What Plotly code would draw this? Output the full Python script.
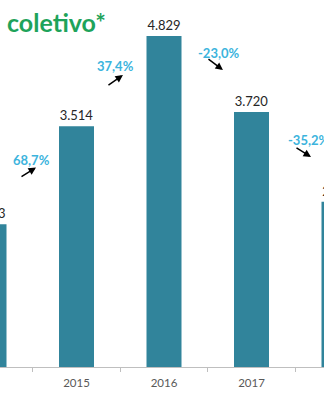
import plotly.graph_objects as go

# ---- data ----
years = ["2014", "2015", "2016", "2017", "2018"]
passengers = [2083, 3514, 4829, 3720, 2410]          # thousands
value_labels = ["2.083", "3.514", "4.829", "3.720", "2.410"]
growth_labels = ["68,7%", "37,4%", "-23,0%", "-35,2%"]
title_text = "coletivo*"

# ---- styling / layout (positions, not data) ----
BAR = "#31849B"
PCT = "#3CB4DD"
GREEN = "#1EA35A"
FONT = "Lato"

# label placement for each year-to-year change (x in category units, y in data units)
pct_x = [0.48, 1.451, 2.629, 3.657]
pct_y = [3020, 4392, 4581, 3312]
arr_x = [0.537, 1.531, 2.674, 3.68]
arr_y = [2911, 4260, 4333, 3064]
arr_ax = [-16, -16, -16, -16]
arr_ay = [10, 11, -12, -10]

fig = go.Figure()
fig.add_trace(go.Bar(
    x=years, y=passengers, width=0.4,
    marker=dict(color=BAR, line=dict(width=0)),
    text=value_labels, textposition="outside", constraintext="none",
    textfont=dict(family=FONT, size=13, color="#262626"),
    cliponaxis=True, hoverinfo="skip",
))

annotations = []
for i, g in enumerate(growth_labels):
    annotations.append(dict(
        x=pct_x[i], y=pct_y[i], xref="x", yref="y", text=g, showarrow=False,
        font=dict(family=FONT, size=13, color=PCT, weight="bold"),
        xanchor="center", yanchor="middle",
    ))
    annotations.append(dict(
        x=arr_x[i], y=arr_y[i], xref="x", yref="y", text="", showarrow=True,
        ax=arr_ax[i], ay=arr_ay[i], arrowhead=2, arrowsize=1, arrowwidth=1.5,
        arrowcolor="#000000", standoff=0,
    ))

fig.update_layout(
    width=324, height=395,
    margin=dict(l=0, r=0, t=0, b=28),
    paper_bgcolor="white", plot_bgcolor="white",
    showlegend=False,
    title=dict(text=title_text, x=7/324, xanchor="left", y=1-23/395, yanchor="middle",
               yref="container", xref="paper",
               font=dict(family=FONT, size=25, color=GREEN, weight="bold")),
    annotations=annotations,
    xaxis=dict(
        type="category", range=[0.1257, 3.8286],
        showline=True, linecolor="#BFBFBF", linewidth=1,
        ticks="outside", tickson="boundaries", ticklen=4, tickcolor="#BFBFBF",
        ticklabelstandoff=5,
        tickfont=dict(family=FONT, size=11.5, color="#595959"),
        showgrid=False, zeroline=False, fixedrange=True,
    ),
    yaxis=dict(range=[0, 5355], visible=False, showgrid=False, zeroline=False),
)

fig.write_html("out.html", config={"displayModeBar": False})
